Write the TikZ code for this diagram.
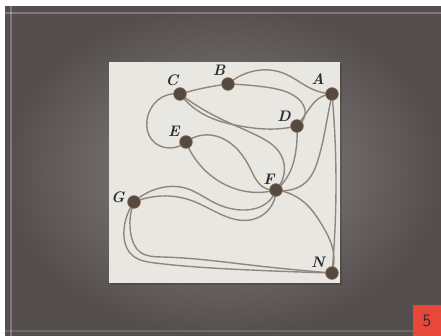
\documentclass[tikz,border=0pt]{standalone}
\usetikzlibrary{hobby}
\definecolor{bgin}{RGB}{140,134,132}
\definecolor{bgout}{RGB}{84,78,78}
\definecolor{paper}{RGB}{233,231,225}
\definecolor{wirecol}{RGB}{140,136,128}
\definecolor{dotcol}{RGB}{84,74,68}
\definecolor{rim}{RGB}{160,118,72}
\definecolor{ink}{RGB}{45,45,52}
\definecolor{tag}{RGB}{232,72,58}
\pgfdeclarelayer{back}
\pgfdeclarelayer{wires}
\pgfsetlayers{back,wires,main}
\tikzset{
  vtx/.style={circle,fill=dotcol,draw=rim,line width=0.5pt,minimum size=11pt,inner sep=0pt},
  lbl/.style={text=ink,font=\fontsize{13}{13}\selectfont\bfseries\itshape,inner sep=0pt},
  wire/.style={draw=wirecol,line width=1.2pt},
}

\begin{document}
\begin{tikzpicture}[x=0.03cm,y=-0.03cm]
\useasboundingbox (0,0) rectangle (441,336);
\begin{pgfonlayer}{back}
\fill[white] (0,0) rectangle (441,336);
\shade[inner color=bgin,outer color=bgout] (5,6) rectangle (441,336);
\draw[white,opacity=.25,line width=1pt] (5,13) -- (441,13);
\draw[white,opacity=.25,line width=1pt] (11,6) -- (11,336);
\draw[white,opacity=.15,line width=1pt] (5,331) -- (441,331);
\fill[black,opacity=.15] (111,64) rectangle (342,285); % shadow
\fill[paper] (109,62) rectangle (340,283);
\fill[tag] (413,305) rectangle (441,336);
\end{pgfonlayer}
\node[font=\fontsize{15}{15}\sffamily,text=ink] (num) at (427,321) {5};
% vertices
\node[vtx] (A) at (332,94) {};
\node[vtx] (B) at (228,84) {};
\node[vtx] (C) at (180,94) {};
\node[vtx] (D) at (297,126) {};
\node[vtx] (E) at (186,142) {};
\node[vtx] (F) at (276,190) {};
\node[vtx] (G) at (134,202) {};
\node[vtx] (N) at (332,273) {};
\node[lbl] (lA) at (318,79) {A};
\node[lbl] (lB) at (219,70) {B};
\node[lbl] (lC) at (172,80) {C};
\node[lbl] (lD) at (284,116) {D};
\node[lbl] (lE) at (174,131) {E};
\node[lbl] (lF) at (269,179) {F};
\node[lbl] (lG) at (118,197) {G};
\node[lbl] (lN) at (318,262) {N};
% curves
\begin{pgfonlayer}{wires}
\draw[wire] (C.center) to[curve through={(204,88)}] (B.center);
\draw[wire] (B.center) to[curve through={(247,73) .. (283,73) .. (312,89)}] (A.center);
\draw[wire] (B.center) to[curve through={(265,87) .. (293,95) .. (305,110)}] (D.center);
\draw[wire] (C.center) to[curve through={(203,114) .. (240,126) .. (275,129)}] (D.center);
\draw[wire] (C.center) to[curve through={(215,116) .. (256,135) .. (281,155) .. (284,174)}] (F.center);
\draw[wire] (C.center) to[curve through={(158,100) .. (147,120) .. (152,140) .. (170,148)}] (E.center);
\draw[wire] (A.center) to[curve through={(318,99) .. (307,112)}] (D.center);
\draw[wire] (A.center) to[curve through={(327,120) .. (318,160) .. (305,183) .. (290,190)}] (F.center);
\draw[wire] (D.center) to[curve through={(296,150) .. (290,172)}] (F.center);
\draw[wire] (A.center) to[curve through={(336,180)}] (N.center);
\draw[wire] (F.center) to[curve through={(305,203) .. (322,225) .. (333,250)}] (N.center);
\draw[wire] (E.center) to[curve through={(210,135) .. (235,147) .. (250,168) .. (263,187)}] (F.center);
\draw[wire] (E.center) to[curve through={(200,165) .. (222,183) .. (250,192)}] (F.center);
\draw[wire] (G.center) to[curve through={(160,188) .. (185,188) .. (215,203) .. (245,210) .. (268,202)}] (F.center);
\draw[wire] (G.center) to[curve through={(162,196) .. (190,200) .. (220,214) .. (250,220) .. (270,208)}] (F.center);
\draw[wire] (G.center) to[curve through={(124,230) .. (132,255) .. (155,263) .. (250,270)}] (N.center);
\draw[wire] (G.center) to[curve through={(131,235) .. (140,252) .. (162,257) .. (250,265)}] (N.center);
\end{pgfonlayer}
\end{tikzpicture}
\end{document}
